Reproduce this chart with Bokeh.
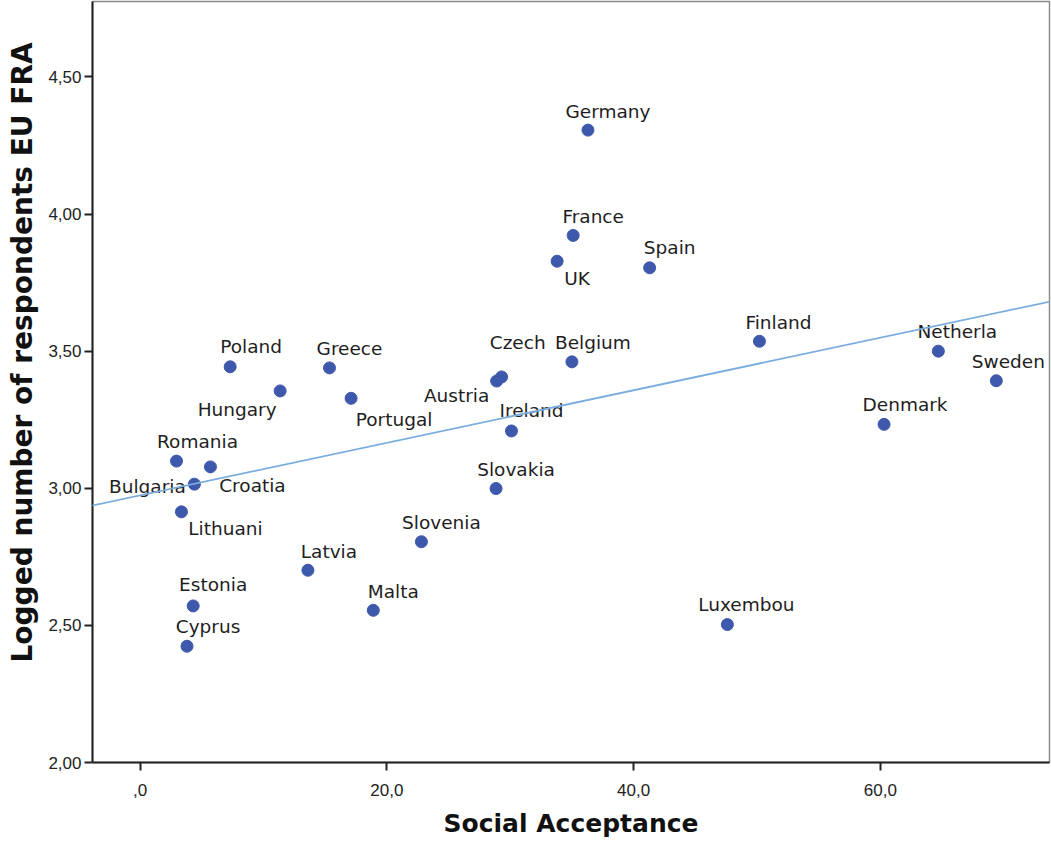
import numpy as np
from bokeh.plotting import figure
from bokeh.models import ColumnDataSource, Range1d, FixedTicker, Slope, Title
from bokeh.core.properties import value
from bokeh.embed import file_html
from bokeh.resources import INLINE

# ---- data ----
countries = ["Germany", "France", "UK", "Spain", "Finland", "Netherla", "Sweden",
             "Denmark", "Belgium", "Czech", "Austria", "Ireland", "Slovakia",
             "Slovenia", "Malta", "Luxembou", "Latvia", "Estonia", "Cyprus",
             "Lithuani", "Bulgaria", "Romania", "Croatia", "Hungary", "Poland",
             "Greece", "Portugal"]
social_acceptance = [36.3, 35.1, 33.8, 41.3, 50.2, 64.7, 69.4,
                     60.3, 35.0, 28.9, 29.3, 30.1, 28.85,
                     22.8, 18.9, 47.6, 13.6, 4.3, 3.8,
                     3.35, 4.4, 2.95, 5.7, 11.35, 7.3,
                     15.35, 17.1]
logged_respondents = [4.306, 3.922, 3.828, 3.804, 3.536, 3.500, 3.392,
                      3.233, 3.461, 3.391, 3.406, 3.209, 2.999,
                      2.805, 2.555, 2.503, 2.701, 2.571, 2.424,
                      2.914, 3.015, 3.099, 3.078, 3.355, 3.443,
                      3.439, 3.328]

x_ticks = [0, 20, 40, 60]
x_tick_labels = [",0", "20,0", "40,0", "60,0"]
y_ticks = [2.0, 2.5, 3.0, 3.5, 4.0, 4.5]
y_tick_labels = ["2,00", "2,50", "3,00", "3,50", "4,00", "4,50"]
x_title = "Social Acceptance"
y_title = "Logged number of respondents EU FRA"

# ---- label placement (screen pixel offsets, layout only) ----
label_dx = [20, 20, 20, 20, 19, 19, 12,
            21, 21, 21, -45, 20, 20,
            20, 20, 19, 21, 20, 21,
            44, -47, 21, 42, -43, 21,
            20, 43]
label_dy = [-19, -19, 17, -20, -19, -20, -19,
            -20, -19, -39, 19, -20, -19,
            -19, -19, -20, -19, -21, -20,
            17, 2, -20, 19, 19, -20,
            -19, 21]

src = ColumnDataSource(dict(x=social_acceptance, y=logged_respondents,
                            name=countries, dx=label_dx, dy=label_dy))

# linear fit (as drawn in the reference)
fit_slope, fit_intercept = np.polyfit(social_acceptance, logged_respondents, 1)

p = figure(width=1051, height=843,
           x_range=Range1d(-3.86, 73.71), y_range=Range1d(2.0, 4.775),
           output_backend="svg", toolbar_location=None,
           min_border_left=91, min_border_right=2, min_border_top=1,
           min_border_bottom=81)

p.background_fill_color = "white"
p.border_fill_color = "white"
p.outline_line_color = "#8a8a8a"
p.outline_line_width = 1.5
p.grid.visible = False

p.text(x="x", y="y", text="name", source=src, x_offset="dx", y_offset="dy",
       text_align="center", text_baseline="alphabetic",
       text_font=value("DejaVu Sans"), text_font_size="18.5px",
       text_color="#1e1e1e")

p.add_layout(Slope(gradient=float(fit_slope), y_intercept=float(fit_intercept),
                   line_color="#7aaddd", line_width=1.8))

p.scatter(x="x", y="y", source=src, size=12, fill_color="#3e58ac",
          line_color="#3e58ac", line_width=1)

def key(t):
    return int(t) if float(t).is_integer() else t

p.xaxis.ticker = FixedTicker(ticks=x_ticks)
p.xaxis.major_label_overrides = {key(t): l for t, l in zip(x_ticks, x_tick_labels)}
p.yaxis.ticker = FixedTicker(ticks=y_ticks)
p.yaxis.major_label_overrides = {key(t): l for t, l in zip(y_ticks, y_tick_labels)}

for ax in (p.xaxis[0], p.yaxis[0]):
    ax.axis_line_color = "#222222"
    ax.axis_line_width = 2
    ax.major_tick_line_color = "#222222"
    ax.major_tick_line_width = 2
    ax.major_tick_out = 8
    ax.major_tick_in = 0
    ax.minor_tick_line_color = None
    ax.major_label_text_font = "Liberation Sans"
    ax.major_label_text_font_size = "17px"
    ax.major_label_text_color = "#222222"

p.xaxis.major_label_standoff = 13
p.yaxis.major_label_standoff = 3

p.xaxis.axis_label = x_title
p.xaxis.axis_label_text_font = "DejaVu Sans"
p.xaxis.axis_label_text_font_style = "bold"
p.xaxis.axis_label_text_font_size = "25px"
p.xaxis.axis_label_text_color = "#111111"
p.xaxis.axis_label_standoff = 10

# y-axis title as a side title so it can sit off-centre like the reference
p.add_layout(Title(text=y_title, align="left", offset=100,
                   vertical_align="top", standoff=10,
                   text_font="DejaVu Sans", text_font_style="bold",
                   text_font_size="28px", text_color="#111111"), "left")

open("out.html", "w").write(file_html(p, INLINE))
